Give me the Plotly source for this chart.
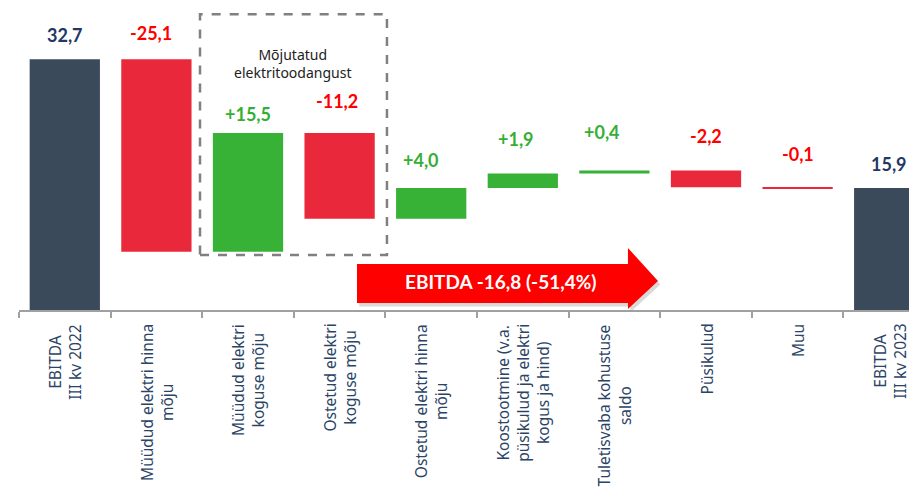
import plotly.graph_objects as go

# ---------------- data ----------------
categories = [
    "EBITDA<br>III kv 2022",
    "Müüdud elektri hinna<br>mõju",
    "Müüdud elektri<br>koguse mõju",
    "Ostetud elektri<br>koguse mõju",
    "Ostetud elektri hinna<br>mõju",
    "Koostootmine (v.a.<br>püsikulud ja elektri<br>kogus ja hind)",
    "Tuletisvaba kohustuse<br>saldo",
    "Püsikulud",
    "Muu",
    "EBITDA<br>III kv 2023",
]
values = [32.7, -25.1, 15.5, -11.2, 4.0, 1.9, 0.4, -2.2, -0.1, 15.9]
measures = ["absolute", "relative", "relative", "relative", "relative",
            "relative", "relative", "relative", "relative", "total"]
box_title = "Mõjutatud<br>elektritoodangust"
arrow_text = "EBITDA -16,8 (-51,4%)"

# label placement tweaks (pixels)
label_yshift = [24, 26, 19, 32, 28, 35, 38, 34, 33, 24]
label_xshift = [0, -5, 0, -3, -10, -7, -12, 0, 0, 0]

# ---------------- styles ----------------
C_TOTAL = "#3B4A5A"
C_UP = "#37B237"
C_DOWN = "#E9293B"
T_TOTAL = "#1F3864"
T_UP = "#35AE35"
T_DOWN = "#FF0000"
AX_TXT = "#2B4466"
LBL_FONT = "Noto Sans"
VAL_FONT = "Lato"

x = list(range(len(values)))

fig = go.Figure()
fig.add_trace(go.Waterfall(
    x=x, y=values, measure=measures,
    increasing=dict(marker=dict(color=C_UP, line=dict(width=0))),
    decreasing=dict(marker=dict(color=C_DOWN, line=dict(width=0))),
    totals=dict(marker=dict(color=C_TOTAL, line=dict(width=0))),
    connector=dict(visible=False),
    hoverinfo="skip", showlegend=False,
))

annotations = []
cum = 0.0
for i, (v, m) in enumerate(zip(values, measures)):
    if m == "absolute":
        start, end = 0.0, v
        cum = v
        txt, col = f"{v:.1f}".replace(".", ","), T_TOTAL
    elif m == "total":
        start, end = 0.0, cum
        txt, col = f"{cum:.1f}".replace(".", ","), T_TOTAL
    else:
        start, end = cum, cum + v
        cum = end
        txt = f"{v:+.1f}".replace(".", ",")
        col = T_UP if v > 0 else T_DOWN
    top = max(start, end)
    annotations.append(dict(
        x=i, y=top, xref="x", yref="y", text=f"<b>{txt}</b>", showarrow=False,
        yanchor="middle", xanchor="center", yshift=label_yshift[i], xshift=label_xshift[i],
        font=dict(family=VAL_FONT, size=18, color=col),
    ))
    annotations.append(dict(
        x=i, y=0, xref="x", yref="paper", text=categories[i], showarrow=False,
        textangle=-90, yanchor="top", xanchor="center", yshift=-12, align="center",
        font=dict(family=LBL_FONT, size=15.5, color=AX_TXT),
    ))

annotations.append(dict(
    x=2.49, y=32.1, xref="x", yref="y", text=box_title, showarrow=False,
    align="center", font=dict(family=LBL_FONT, size=14, color="#222222"),
))
annotations.append(dict(
    x=4.76, y=3.7, xref="x", yref="y", text=f"<b>{arrow_text}</b>", showarrow=False,
    font=dict(family=VAL_FONT, size=19, color="white"),
))

def arrow_path(dx=0.0, dy=0.0):
    pts = [(3.19, 6.0), (6.148, 6.0), (6.148, 8.09), (6.476, 3.78),
           (6.148, 0.13), (6.148, 0.913), (3.19, 0.913)]
    return "M " + " L ".join(f"{px+dx},{py+dy}" for px, py in pts) + " Z"

shapes = [
    dict(type="rect", xref="x", yref="y", x0=1.476, x1=3.517, y0=7.17, y1=38.57,
         line=dict(color="#808080", width=2.5, dash="dash"), fillcolor="rgba(0,0,0,0)"),
    dict(type="path", xref="x", yref="y", path=arrow_path(0.025, -0.45),
         fillcolor="rgba(0,0,0,0.15)", line=dict(width=0), layer="above"),
    dict(type="path", xref="x", yref="y", path=arrow_path(),
         fillcolor="#FF0000", line=dict(width=0), layer="above"),
]

# page body has an 8px margin: figure origin sits at (8, 8) in the window
fig.update_layout(
    width=909, height=480,
    margin=dict(l=11, r=0, t=0, b=178),
    paper_bgcolor="white", plot_bgcolor="white",
    waterfallgap=0.233,
    xaxis=dict(range=[-0.5, -0.5 + 898 / 91.6], showgrid=False, zeroline=False,
               showline=True, linecolor="#A0A0A0", linewidth=2,
               tickmode="array", tickvals=[i - 0.5 for i in range(11)],
               ticks="outside", ticklen=6, tickwidth=2, tickcolor="#A0A0A0",
               showticklabels=False, fixedrange=True),
    yaxis=dict(range=[0, 302 / 7.667], visible=False, fixedrange=True),
    annotations=annotations,
    shapes=shapes,
)

fig.write_html("out.html")
